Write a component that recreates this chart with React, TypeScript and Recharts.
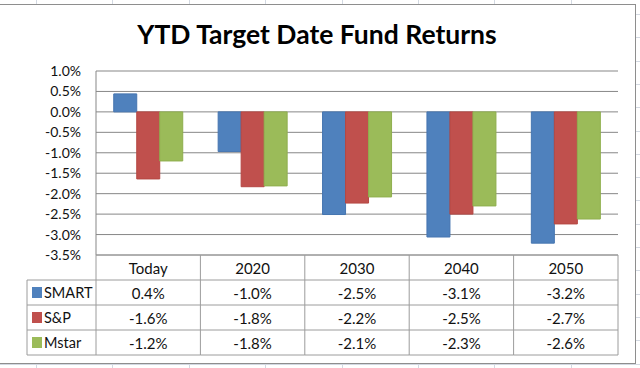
import { BarChart, Bar, XAxis, YAxis, CartesianGrid } from 'recharts';

const categories = ['Today', '2020', '2030', '2040', '2050'];
const smart = [0.44, -0.97, -2.51, -3.06, -3.21];
const sp = [-1.64, -1.83, -2.23, -2.5, -2.74];
const mstar = [-1.2, -1.81, -2.08, -2.3, -2.62];
const yTicks = [1, 0.5, 0, -0.5, -1, -1.5, -2, -2.5, -3, -3.5];

const seriesList = [
  { key: 'smart', name: 'SMART', values: smart, fill: '#4F81BD', stroke: '#4675B0' },
  { key: 'sp', name: 'S&P', values: sp, fill: '#C0504D', stroke: '#B54743' },
  { key: 'mstar', name: 'Mstar', values: mstar, fill: '#9BBB59', stroke: '#8FAF4E' },
];

const data = categories.map((c, i) => ({
  name: c,
  smart: smart[i],
  sp: sp[i],
  mstar: mstar[i],
}));

const FONT = 'Lato, "DejaVu Sans", sans-serif';
const PLOT_LEFT = 96;
const PLOT_RIGHT = 618;
const TABLE_TOP = 255;
const ROW_H = 25;
const LEGEND_LEFT = 27;
const BAND = (PLOT_RIGHT - PLOT_LEFT) / categories.length;
const LINE = '#9c9c9c';

const pct = (v: number) => `${v.toFixed(1)}%`;

// each x-axis tick draws its own column of the data table
function TableTick(props: any) {
  const { x, payload, index } = props;
  const left = x - BAND / 2;
  const right = x + BAND / 2;
  const bottom = TABLE_TOP + ROW_H * 4;
  const rows = [0, 1, 2, 3, 4].map((r) => TABLE_TOP + r * ROW_H);
  return (
    <g fontFamily={FONT} fontSize={15} fill="#111">
      {rows.map((ry) => (
        <line key={ry} x1={left} x2={right} y1={ry} y2={ry} stroke={LINE} />
      ))}
      <line x1={right} x2={right} y1={TABLE_TOP} y2={bottom} stroke={LINE} />
      {index === 0 && (
        <g>
          <line x1={left} x2={left} y1={TABLE_TOP} y2={bottom} stroke={LINE} />
          <line x1={LEGEND_LEFT} x2={LEGEND_LEFT} y1={TABLE_TOP + ROW_H} y2={bottom} stroke={LINE} />
          {rows.slice(1).map((ry) => (
            <line key={ry} x1={LEGEND_LEFT} x2={left} y1={ry} y2={ry} stroke={LINE} />
          ))}
          {seriesList.map((s, r) => (
            <g key={s.key}>
              <rect x={LEGEND_LEFT + 5} y={TABLE_TOP + ROW_H * (r + 1) + 7} width={10} height={11} fill={s.fill} />
              <text x={LEGEND_LEFT + 17} y={TABLE_TOP + ROW_H * (r + 1.5)} dominantBaseline="central" fontSize={14.5}>
                {s.name}
              </text>
            </g>
          ))}
        </g>
      )}
      <text x={x} y={TABLE_TOP + ROW_H / 2} textAnchor="middle" dominantBaseline="central">
        {payload.value}
      </text>
      {seriesList.map((s, r) => (
        <text key={s.key} x={x} y={TABLE_TOP + ROW_H * (r + 1.5)} textAnchor="middle" dominantBaseline="central">
          {pct(s.values[index])}
        </text>
      ))}
    </g>
  );
}

export default function App() {
  return (
    <div
      style={{
        position: 'absolute',
        left: 0,
        top: 0,
        width: 640,
        height: 368,
        overflow: 'hidden',
        background: '#fff',
        backgroundImage:
          'repeating-linear-gradient(to right, transparent 0px, transparent 36px, #d3d9e2 36px, #d3d9e2 37px, transparent 37px, transparent 76.4px), repeating-linear-gradient(to bottom, transparent 0px, transparent 14px, #d3d9e2 14px, #d3d9e2 15px, transparent 15px, transparent 23.3px)',
      }}
    >
      <div
        style={{
          position: 'absolute',
          left: -1,
          top: 4,
          width: 635,
          height: 358,
          border: '1px solid #8e8e8e',
          background: '#fff',
        }}
      />
      <div
        style={{
          position: 'absolute',
          left: 0,
          top: 18,
          width: 634,
          textAlign: 'center',
          fontFamily: FONT,
          fontWeight: 700,
          fontSize: 26.5,
          color: '#000',
        }}
      >
        YTD Target Date Fund Returns
      </div>
      <div style={{ position: 'absolute', left: 0, top: 0 }}>
        <BarChart
          width={640}
          height={368}
          data={data}
          margin={{ top: 71, right: 640 - PLOT_RIGHT, bottom: 0, left: 0 }}
          barCategoryGap="17%"
          barGap={0}
        >
          <CartesianGrid vertical={false} stroke="#878787" />
          <XAxis
            dataKey="name"
            height={368 - TABLE_TOP}
            axisLine={false}
            tickLine={false}
            tickSize={0}
            tickMargin={0}
            interval={0}
            tick={<TableTick />}
          />
          <YAxis
            width={PLOT_LEFT}
            domain={[-3.5, 1]}
            ticks={yTicks}
            interval={0}
            tickFormatter={pct}
            axisLine={{ stroke: '#878787' }}
            tickLine={false}
            tickSize={0}
            tickMargin={15}
            tick={{ fill: '#111', fontFamily: FONT, fontSize: 14 }}
          />
          {seriesList.map((s) => (
            <Bar
              key={s.key}
              dataKey={s.key}
              name={s.name}
              fill={s.fill}
              stroke={s.stroke}
              strokeWidth={1}
              isAnimationActive={false}
            />
          ))}
        </BarChart>
      </div>
    </div>
  );
}
